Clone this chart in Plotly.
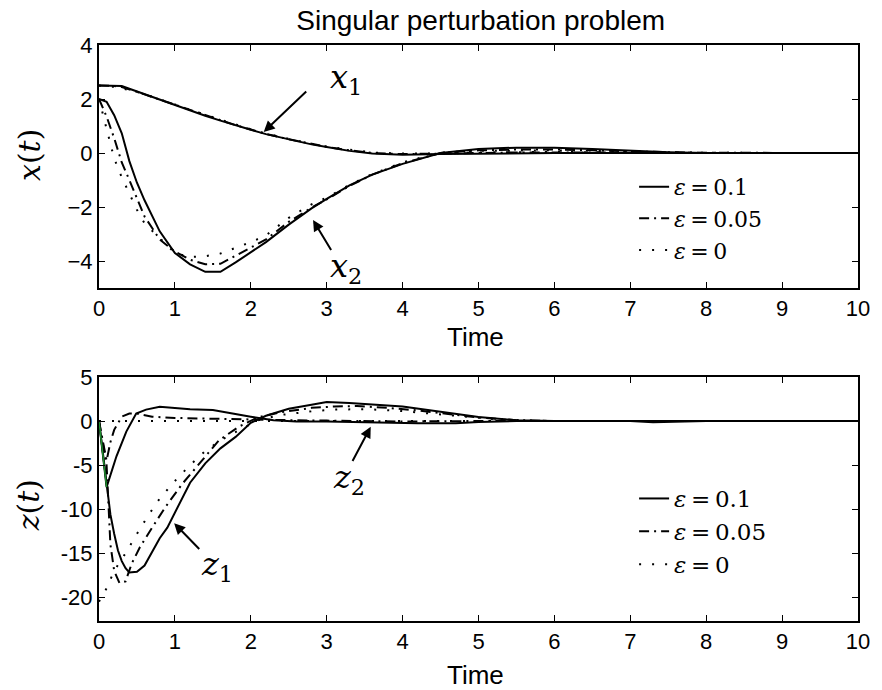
import plotly.graph_objects as go

# ---------------- data ----------------
t_x = [0, 0.1, 0.2, 0.3, 0.4, 0.5, 0.6, 0.8, 1.0, 1.2, 1.4, 1.6, 1.8, 2.0, 2.2, 2.5,
       2.8, 3.0, 3.3, 3.6, 4.0, 4.5, 5.0, 5.5, 6.0, 6.5, 7.0, 7.5, 8, 9, 10]

x1_eps01 = [2.5, 2.5, 2.5, 2.48, 2.38, 2.28, 2.17, 1.96, 1.76, 1.56, 1.38, 1.2, 1.02, 0.86, 0.7, 0.5,
            0.32, 0.22, 0.08, -0.02, -0.06, -0.04, -0.02, 0.0, 0.0, 0, 0, 0, 0, 0, 0]
x1_eps005 = [2.5, 2.5, 2.48, 2.44, 2.36, 2.27, 2.17, 1.98, 1.78, 1.58, 1.4, 1.2, 1.03, 0.87, 0.71, 0.51,
             0.33, 0.23, 0.1, 0.0, -0.04, -0.03, 0.0, 0.02, 0.03, 0.02, 0.01, 0, 0, 0, 0]
x1_eps0 = [2.5, 2.48, 2.45, 2.4, 2.34, 2.26, 2.18, 2.0, 1.8, 1.6, 1.42, 1.22, 1.05, 0.88, 0.72, 0.52,
           0.34, 0.24, 0.12, 0.02, -0.02, -0.02, 0.02, 0.04, 0.04, 0.03, 0.02, 0.01, 0, 0, 0]

x2_eps01 = [2.0, 1.9, 1.4, 0.73, -0.3, -1.1, -1.75, -2.9, -3.7, -4.12, -4.4, -4.4, -4.05, -3.67, -3.3, -2.65,
            -2.05, -1.7, -1.2, -0.8, -0.4, 0.0, 0.15, 0.2, 0.2, 0.15, 0.08, 0.03, 0, 0, 0]
x2_eps005 = [2.0, 1.35, 0.55, -0.35, -1.0, -1.65, -2.35, -3.2, -3.65, -3.95, -4.12, -4.1, -3.8, -3.5, -3.2, -2.55,
             -2.02, -1.72, -1.22, -0.8, -0.38, 0.0, 0.1, 0.13, 0.13, 0.1, 0.06, 0.03, 0.01, 0, 0]
x2_eps0 = [2.0, 0.85, -0.2, -0.9, -1.5, -2.1, -2.6, -3.15, -3.7, -3.85, -3.82, -3.72, -3.5, -3.3, -3.05, -2.4,
           -1.9, -1.65, -1.18, -0.78, -0.35, 0.02, 0.08, 0.1, 0.1, 0.08, 0.05, 0.02, 0, 0, 0]

t_z1_eps01 = [0, 0.1, 0.15, 0.2, 0.25, 0.3, 0.35, 0.4, 0.5, 0.6, 0.7, 0.8, 0.9, 1.0, 1.2, 1.4, 1.6,
              1.8, 2.0, 2.2, 2.5, 2.8, 3.0, 3.3, 3.6, 4.0, 4.5, 5.0, 5.5, 6.0, 7, 8, 10]
z1_eps01 = [0, -7.5, -10.6, -12.8, -14.7, -15.9, -16.7, -17.2, -17.1, -16.4, -14.9, -13.3, -12.1, -10.4, -7.0,
            -4.8, -3.1, -1.8, -0.2, 0.6, 1.4, 1.85, 2.15, 2.05, 1.9, 1.65, 1.05, 0.45, 0.1, 0.0, 0, 0, 0]

t_z1_eps005 = [0, 0.1, 0.15, 0.2, 0.27, 0.35, 0.43, 0.54, 0.7, 0.88, 1.1, 1.32, 1.58, 1.84, 2.1, 2.4,
               2.8, 3.1, 3.4, 3.8, 4.2, 4.6, 5.0, 5.5, 6, 7, 10]
z1_eps005 = [0, -5, -14, -17, -18.4, -18.2, -16.2, -14.3, -12.1, -9.7, -7.1, -4.8, -2.2, -0.65, 0.45, 1.0,
             1.5, 1.65, 1.7, 1.5, 1.2, 0.8, 0.4, 0.1, 0, 0, 0]

t_z1_eps0 = [0, 0.1, 0.2, 0.35, 0.5, 0.65, 0.8, 1.0, 1.2, 1.4, 1.6, 1.85, 2.1, 2.4, 2.8, 3.1, 3.5,
             3.9, 4.3, 4.8, 5.3, 6, 7, 10]
z1_eps0 = [-20.5, -19, -17, -15, -12.8, -10.7, -8.8, -6.8, -5.0, -3.4, -2.2, -1.0, 0.1, 0.7, 1.1, 1.3, 1.35,
           1.2, 0.9, 0.5, 0.15, 0, 0, 0]

t_z2_eps01 = [0, 0.1, 0.23, 0.36, 0.49, 0.62, 0.8, 0.97, 1.2, 1.5, 1.75, 2.0, 2.3, 2.6, 3.0, 3.5, 3.8,
              4.2, 4.7, 5.0, 5.5, 6, 7, 7.3, 7.6, 8, 10]
z2_eps01 = [0, -7.5, -4.0, -1.2, 0.85, 1.3, 1.62, 1.5, 1.35, 1.25, 0.85, 0.5, 0.1, -0.05, -0.05, -0.15, -0.25,
            -0.25, -0.25, -0.1, 0, 0, 0, -0.15, -0.1, 0, 0]

t_z2_eps005 = [0, 0.1, 0.15, 0.2, 0.3, 0.4, 0.5, 0.7, 1.0, 1.5, 2.0, 2.5, 3.0, 3.5, 4.0, 5.0, 6, 10]
z2_eps005 = [0, -4.5, -2.4, -1.0, 0.5, 0.85, 0.85, 0.5, 0.35, 0.25, 0.15, 0.1, 0.05, 0.0, -0.05, 0, 0, 0]

t_z2_eps0 = [0, 2, 4, 6, 8, 10]
z2_eps0 = [0, 0, 0, 0, 0, 0]

t_init = [0, 0.1]
z_init = [0, -7.5]

legend_labels = ["<i>ε</i>\u2009=\u20090.1", "<i>ε</i>\u2009=\u20090.05", "<i>ε</i>\u2009=\u20090"]
x_ticks = [0, 1, 2, 3, 4, 5, 6, 7, 8, 9, 10]
x_tick_text = ["0", "1", "2", "3", "4", "5", "6", "7", "8", "9", "10"]
top_y_ticks = [-4, -2, 0, 2, 4]
top_y_text = ["\u22124", "\u22122", "0", "2", "4"]
bot_y_ticks = [-20, -15, -10, -5, 0, 5]
bot_y_text = ["-20", "-15", "-10", "-5", "0", "5"]

# ---------------- styling ----------------
SANS = "Liberation Sans, Arial, sans-serif"
SERIF = "DejaVu Serif, serif"
styles = [dict(color="black", width=2, dash="solid"),
          dict(color="black", width=2, dash="10px,5px,2px,5px"),
          dict(color="black", width=2, dash="2px,11px")]

fig = go.Figure()

top = [(t_x, x1_eps01, t_x, x2_eps01),
       (t_x, x1_eps005, t_x, x2_eps005),
       (t_x, x1_eps0, t_x, x2_eps0)]
for i, (ta, a, tb, b) in enumerate(top):
    fig.add_trace(go.Scatter(x=ta, y=a, mode="lines", line=styles[i], name=legend_labels[i],
                             legendgroup="top%d" % i, showlegend=True, legend="legend",
                             xaxis="x", yaxis="y"))
    fig.add_trace(go.Scatter(x=tb, y=b, mode="lines", line=styles[i], name=legend_labels[i],
                             legendgroup="top%d" % i, showlegend=False, legend="legend",
                             xaxis="x", yaxis="y"))

bottom = [(t_z1_eps01, z1_eps01, t_z2_eps01, z2_eps01),
          (t_z1_eps005, z1_eps005, t_z2_eps005, z2_eps005),
          (t_z1_eps0, z1_eps0, t_z2_eps0, z2_eps0)]
for i, (ta, a, tb, b) in enumerate(bottom):
    fig.add_trace(go.Scatter(x=ta, y=a, mode="lines", line=styles[i], name=legend_labels[i],
                             legendgroup="bot%d" % i, showlegend=True, legend="legend2",
                             xaxis="x2", yaxis="y2"))
    fig.add_trace(go.Scatter(x=tb, y=b, mode="lines", line=styles[i], name=legend_labels[i],
                             legendgroup="bot%d" % i, showlegend=False, legend="legend2",
                             xaxis="x2", yaxis="y2"))

fig.add_trace(go.Scatter(x=t_init, y=z_init, mode="lines", line=dict(color="#1f8f2f", width=1.5),
                         showlegend=False, xaxis="x2", yaxis="y2"))

axis_common = dict(showline=True, linecolor="black", linewidth=2, mirror="ticks",
                   ticks="inside", ticklen=6, tickcolor="black", tickwidth=1,
                   showgrid=False, zeroline=False,
                   tickfont=dict(family=SANS, size=22, color="black"))

fig.update_layout(
    width=882, height=690,
    margin=dict(l=99, r=17, t=45, b=69),
    paper_bgcolor="white", plot_bgcolor="white",
    title=dict(text="Singular perturbation problem", x=0.545, xanchor="center",
               y=1 - 20 / 690, yanchor="middle",
               font=dict(family=SANS, size=28, color="black")),
    xaxis=dict(domain=[0, 1], anchor="y", range=[0, 10], tickvals=x_ticks, ticktext=x_tick_text,
               **axis_common),
    yaxis=dict(domain=[0.578, 1], anchor="x", range=[-5, 4], tickvals=top_y_ticks,
               ticktext=top_y_text, **axis_common),
    xaxis2=dict(domain=[0, 1], anchor="y2", range=[0, 10], tickvals=x_ticks, ticktext=x_tick_text,
                **axis_common),
    yaxis2=dict(domain=[0, 0.4236], anchor="x2", range=[-22.7, 5], tickvals=bot_y_ticks,
                ticktext=bot_y_text, **axis_common),
    legend=dict(x=0.705, y=0.79, xanchor="left", yanchor="top", bgcolor="rgba(0,0,0,0)",
                font=dict(family=SERIF, size=22, color="black"), tracegroupgap=0),
    legend2=dict(x=0.705, y=0.25, xanchor="left", yanchor="top", bgcolor="rgba(0,0,0,0)",
                 font=dict(family=SERIF, size=23, color="black"), tracegroupgap=0),
    showlegend=True,
)

ann = []
# x-axis titles
for yy in [0.493, -0.094]:
    ann.append(dict(text="Time", xref="paper", yref="paper", x=0.496, y=yy, showarrow=False,
                    xanchor="center", yanchor="middle", font=dict(family=SANS, size=26, color="black")))
# y-axis titles
ann.append(dict(text="<i>x</i>(<i>t</i>)", xref="paper", yref="paper", x=0, y=0.809, xshift=-70,
                showarrow=False, textangle=-90, xanchor="center", yanchor="middle",
                font=dict(family=SERIF, size=30, color="black")))
ann.append(dict(text="<i>z</i>(<i>t</i>)", xref="paper", yref="paper", x=0, y=0.201, xshift=-71,
                showarrow=False, textangle=-90, xanchor="center", yanchor="middle",
                font=dict(family=SERIF, size=30, color="black")))

arrow = dict(showarrow=True, arrowhead=2, arrowsize=1.1, arrowwidth=2, arrowcolor="black", text="")
# arrows (tip x,y ; tail ax,ay) in data units
ann.append(dict(x=2.17, y=0.78, ax=2.75, ay=2.33, xref="x", yref="y", axref="x", ayref="y", **arrow))
ann.append(dict(x=2.82, y=-2.48, ax=3.07, ay=-3.65, xref="x", yref="y", axref="x", ayref="y", **arrow))
ann.append(dict(x=0.99, y=-11.6, ax=1.34, ay=-14.7, xref="x2", yref="y2", axref="x2", ayref="y2", **arrow))
ann.append(dict(x=3.58, y=-0.65, ax=3.33, ay=-4.7, xref="x2", yref="y2", axref="x2", ayref="y2", **arrow))
# labels
lab_font = dict(family=SERIF, size=32, color="black")
ann.append(dict(text="<i>x</i><sub>1</sub>", x=3.25, y=2.75, xref="x", yref="y", showarrow=False, font=lab_font))
ann.append(dict(text="<i>x</i><sub>2</sub>", x=3.25, y=-4.25, xref="x", yref="y", showarrow=False, font=lab_font))
ann.append(dict(text="<i>z</i><sub>1</sub>", x=1.55, y=-16.4, xref="x2", yref="y2", showarrow=False, font=lab_font))
ann.append(dict(text="<i>z</i><sub>2</sub>", x=3.3, y=-6.6, xref="x2", yref="y2", showarrow=False, font=lab_font))

fig.update_layout(annotations=ann)
fig.write_html("out.html")
